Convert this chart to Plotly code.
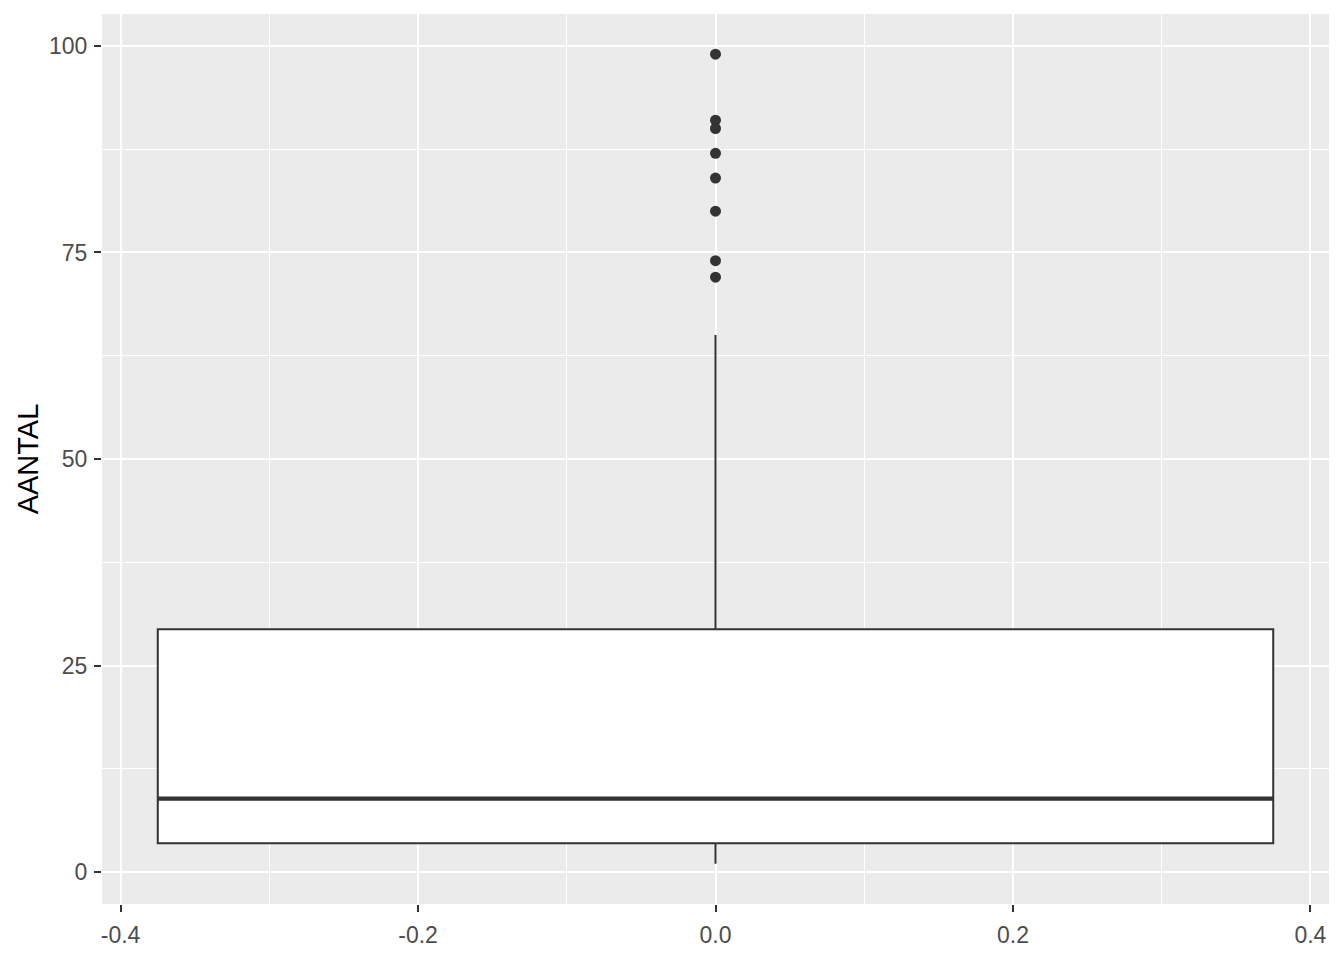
import plotly.graph_objects as go

# box statistics (variable AANTAL)
box_center = 0.0
box_width = 0.75
q1 = 3.5
median = 8.9
q3 = 29.4
lower_whisker = 1
upper_whisker = 65
outliers = [99, 91, 90, 87, 84, 80, 74, 72]

x_ticks = [-0.4, -0.2, 0.0, 0.2, 0.4]
x_tick_labels = ["-0.4", "-0.2", "0.0", "0.2", "0.4"]
x_minor = [-0.3, -0.1, 0.1, 0.3]
y_ticks = [0, 25, 50, 75, 100]
y_minor = [12.5, 37.5, 62.5, 87.5]

INK = "#333333"
FONT = "Liberation Sans, Arial, sans-serif"

box = go.Box(
    x=[box_center],
    q1=[q1],
    median=[median],
    q3=[q3],
    lowerfence=[lower_whisker],
    upperfence=[upper_whisker],
    width=box_width,
    whiskerwidth=0,
    boxpoints=False,
    fillcolor="white",
    line=dict(color=INK, width=2),
    hoverinfo="skip",
)

# ggplot draws the median thicker than the box outline
median_line = go.Scatter(
    x=[box_center - box_width / 2, box_center + box_width / 2],
    y=[median, median],
    mode="lines",
    line=dict(color=INK, width=4.2),
    hoverinfo="skip",
)

outlier_trace = go.Scatter(
    x=[box_center] * len(outliers),
    y=outliers,
    mode="markers",
    marker=dict(color=INK, size=11, line=dict(width=0)),
    hoverinfo="skip",
)

fig = go.Figure(data=[box, median_line, outlier_trace])

axis_common = dict(
    showgrid=True,
    gridcolor="white",
    gridwidth=2,
    zeroline=False,
    showline=False,
    ticks="outside",
    ticklen=7,
    tickwidth=2,
    tickcolor=INK,
    tickfont=dict(family=FONT, size=23, color="#4D4D4D"),
)

fig.update_layout(
    width=1344,
    height=960,
    showlegend=False,
    paper_bgcolor="white",
    plot_bgcolor="#EBEBEB",
    margin=dict(l=102, r=15, t=14, b=52),
    font=dict(family=FONT),
    xaxis=dict(
        range=[-0.4125, 0.4125],
        tickvals=x_ticks,
        ticktext=x_tick_labels,
        minor=dict(tickvals=x_minor, showgrid=True, gridcolor="white", gridwidth=1, ticks=""),
        ticklabelstandoff=3,
        **axis_common,
    ),
    yaxis=dict(
        range=[-3.86, 103.86],
        tickvals=y_ticks,
        minor=dict(tickvals=y_minor, showgrid=True, gridcolor="white", gridwidth=1, ticks=""),
        ticklabelstandoff=2,
        title=dict(text="AANTAL", font=dict(family=FONT, size=29, color="black"), standoff=1),
        **axis_common,
    ),
)

# drop the default page margin so the figure sits at the window's corner
fig.write_html(
    "out.html",
    config={"displayModeBar": False},
    post_script="document.body.style.margin='0px';",
)
